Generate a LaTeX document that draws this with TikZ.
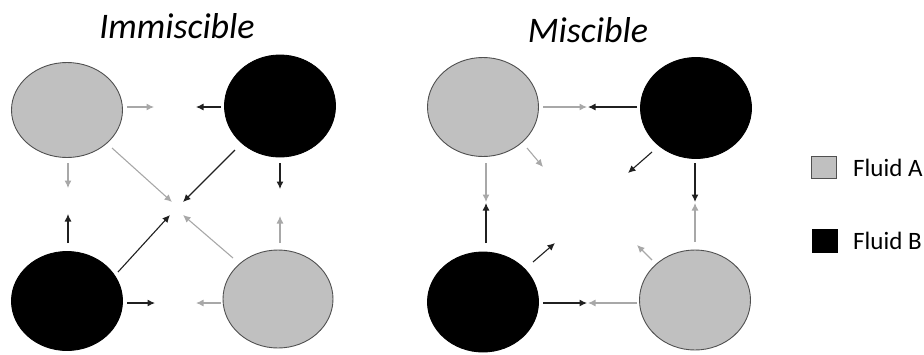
\documentclass[tikz,border=0pt]{standalone}
\usepackage{fontspec}
\setmainfont{Carlito}
\usetikzlibrary{shapes.geometric,arrows.meta}
\definecolor{fluidA}{HTML}{C0C0C0}
\definecolor{edgeA}{HTML}{505050}
\definecolor{garr}{HTML}{A8A8A8}
\definecolor{barr}{HTML}{202020}
\tikzset{
  blob/.style={ellipse, inner sep=0pt, line width=0.9pt},
  blobA/.style={blob, fill=fluidA, draw=edgeA},
  blobB/.style={blob, fill=black, draw=black},
  garrow/.style={draw=garr, line width=1.1pt, -{Latex[length=7.5pt,width=7pt]}},
  barrow/.style={draw=barr, line width=1.1pt, -{Latex[length=7.5pt,width=7pt]}},
  ttl/.style={font=\itshape\fontsize{36}{40}\selectfont, inner sep=0pt},
  lgd/.style={font=\fontsize{25}{28}\selectfont, inner sep=0pt, anchor=west},
}
\begin{document}
\begin{tikzpicture}[x=1pt,y=-1pt]
\useasboundingbox (0,0) rectangle (924,354);
% titles
\node[ttl] (t1) at (177,26) {Immiscible};
\node[ttl] (t2) at (588,30) {Miscible};
% ---------- left panel ----------
\node[blobA, minimum width=111pt, minimum height=95pt] (ltl) at (67,110) {};
\node[blobB, minimum width=111pt, minimum height=102pt] (ltr) at (280,106) {};
\node[blobB, minimum width=111pt, minimum height=99pt] (lbl) at (67,301) {};
\node[blobA, minimum width=110pt, minimum height=98pt] (lbr) at (278,299) {};
% coordinates
\coordinate (a1s) at (127,107); \coordinate (a1e) at (154,107);
\coordinate (a2s) at (221,107); \coordinate (a2e) at (196,107);
\coordinate (a3s) at (68,163);  \coordinate (a3e) at (68,188);
\coordinate (a4s) at (280,163); \coordinate (a4e) at (280,189);
\coordinate (a5s) at (68,243);  \coordinate (a5e) at (68,214);
\coordinate (a6s) at (280,243); \coordinate (a6e) at (280,216);
\coordinate (a7s) at (127,303); \coordinate (a7e) at (155,303);
\coordinate (a8s) at (221,303); \coordinate (a8e) at (196,303);
\coordinate (a9s) at (112,148); \coordinate (a9e) at (172,202);
\coordinate (a10s) at (235,150); \coordinate (a10e) at (183,202);
\coordinate (a11s) at (118,272); \coordinate (a11e) at (170,215);
\coordinate (a12s) at (233,258); \coordinate (a12e) at (183,215);
\draw[garrow] (a1s) -- (a1e);
\draw[barrow] (a2s) -- (a2e);
\draw[garrow] (a3s) -- (a3e);
\draw[barrow] (a4s) -- (a4e);
\draw[barrow] (a5s) -- (a5e);
\draw[garrow] (a6s) -- (a6e);
\draw[barrow] (a7s) -- (a7e);
\draw[garrow] (a8s) -- (a8e);
\draw[garrow] (a9s) -- (a9e);
\draw[barrow] (a10s) -- (a10e);
\draw[barrow] (a11s) -- (a11e);
\draw[garrow] (a12s) -- (a12e);
% ---------- right panel ----------
\node[blobA, minimum width=111pt, minimum height=99pt] (rtl) at (483,107) {};
\node[blobB, minimum width=111pt, minimum height=101pt] (rtr) at (696,108) {};
\node[blobB, minimum width=111pt, minimum height=100pt] (rbl) at (483,302) {};
\node[blobA, minimum width=111pt, minimum height=100pt] (rbr) at (695,300) {};
\coordinate (b1s) at (543,107); \coordinate (b1e) at (587,107);
\coordinate (b2s) at (637,107); \coordinate (b2e) at (588,107);
\coordinate (b3s) at (486,163); \coordinate (b3e) at (486,202);
\coordinate (b4s) at (486,243); \coordinate (b4e) at (486,203);
\coordinate (b5s) at (695,163); \coordinate (b5e) at (695,202);
\coordinate (b6s) at (695,242); \coordinate (b6e) at (695,203);
\coordinate (b7s) at (543,303); \coordinate (b7e) at (587,303);
\coordinate (b8s) at (637,303); \coordinate (b8e) at (588,303);
\coordinate (b9s) at (527,148); \coordinate (b9e) at (543,167);
\coordinate (b10s) at (652,152); \coordinate (b10e) at (628,173);
\coordinate (b11s) at (533,262); \coordinate (b11e) at (555,243);
\coordinate (b12s) at (652,260); \coordinate (b12e) at (637,245);
\draw[garrow] (b1s) -- (b1e);
\draw[barrow] (b2s) -- (b2e);
\draw[garrow] (b3s) -- (b3e);
\draw[barrow] (b4s) -- (b4e);
\draw[barrow] (b5s) -- (b5e);
\draw[garrow] (b6s) -- (b6e);
\draw[barrow] (b7s) -- (b7e);
\draw[garrow] (b8s) -- (b8e);
\draw[garrow] (b9s) -- (b9e);
\draw[barrow] (b10s) -- (b10e);
\draw[barrow] (b11s) -- (b11e);
\draw[garrow] (b12s) -- (b12e);
% ---------- legend ----------
\node[draw=edgeA, fill=fluidA, line width=0.9pt, minimum width=25pt, minimum height=22pt, inner sep=0pt] (sqA) at (824,167.5) {};
\node[draw=black, fill=black, minimum width=25pt, minimum height=23pt, inner sep=0pt] (sqB) at (825,241) {};
\node[lgd] (lA) at (853,168) {Fluid A};
\node[lgd] (lB) at (853,241) {Fluid B};
\end{tikzpicture}
\end{document}
